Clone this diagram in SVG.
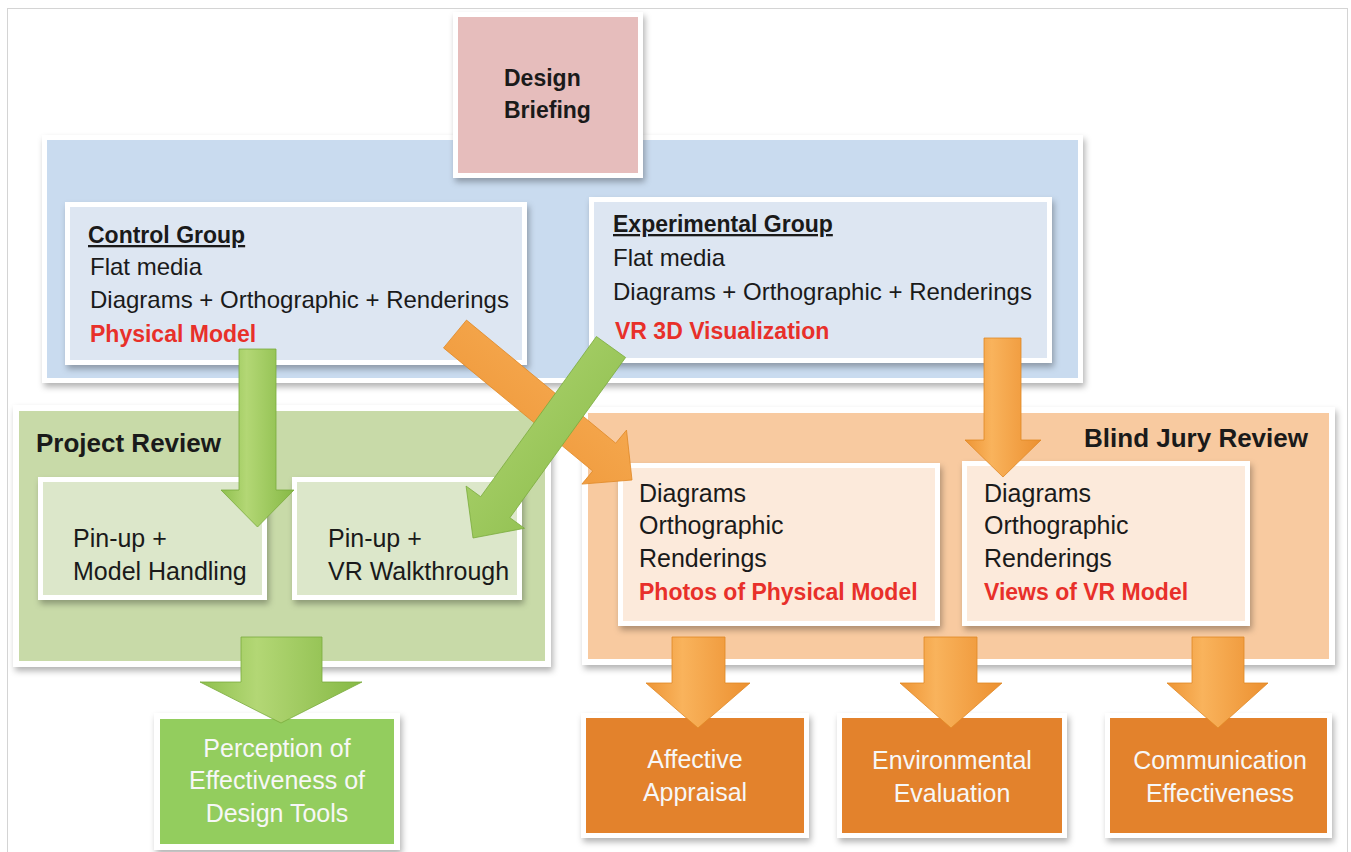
<svg xmlns="http://www.w3.org/2000/svg" width="1351" height="852" viewBox="0 0 1351 852">
<defs>
<filter id="sh" x="-10%" y="-10%" width="130%" height="130%">
<feDropShadow dx="2" dy="4" stdDeviation="3" flood-color="#000" flood-opacity="0.3"/>
</filter>
<linearGradient id="gG" x1="0" y1="0" x2="1" y2="0">
<stop offset="0" stop-color="#8FC04E"/><stop offset="0.35" stop-color="#B3D775"/><stop offset="1" stop-color="#86B945"/>
</linearGradient>
<linearGradient id="gO" x1="0" y1="0" x2="1" y2="0">
<stop offset="0" stop-color="#EE9535"/><stop offset="0.35" stop-color="#F9B35C"/><stop offset="1" stop-color="#EC9030"/>
</linearGradient>
<linearGradient id="gGd" x1="0" y1="0" x2="1" y2="1">
<stop offset="0" stop-color="#B3D775"/><stop offset="1" stop-color="#86B945"/>
</linearGradient>
<linearGradient id="gOd" x1="1" y1="0" x2="0" y2="1">
<stop offset="0" stop-color="#F9B35C"/><stop offset="1" stop-color="#EC9030"/>
</linearGradient>
</defs>
<style>
.w{fill:#fff;filter:url(#sh)}
.t{font-family:"Liberation Sans",Arial,sans-serif;font-size:24px;fill:#1a1a1a}
.m{font-size:25px}
.b{font-weight:bold}
.u{text-decoration:underline}
.r{fill:#E8302A;font-weight:bold;font-size:23px}
.wt{fill:#F7F7F7;text-anchor:middle;font-size:25px}
.ga{stroke:#7AAB3C;stroke-width:0.8}
.oa{stroke:#E08825;stroke-width:0.8}
</style>
<rect x="7.5" y="8.5" width="1340" height="850" fill="#fff" stroke="#D4D4D4" stroke-width="1"/>

<g id="panel-design-phase">
<rect class="w" x="42" y="135" width="1041" height="248"/>
<rect x="47" y="140" width="1031" height="238" fill="#C9DBEF"/>
</g>
<g id="design-briefing">
<rect class="w" x="453" y="12" width="190" height="166"/>
<rect x="458" y="17" width="180" height="156" fill="#E6BDBC"/>
<text class="t b" x="504" y="86" style="font-size:23px">Design</text>
<text class="t b" x="504" y="118" style="font-size:23px">Briefing</text>
</g>
<g id="control-group">
<rect class="w" x="65" y="202" width="462" height="163"/>
<rect x="70" y="207" width="452" height="153" fill="#DDE6F2"/>
<text class="t b u" x="88" y="243" style="font-size:23px">Control Group</text>
<text class="t" x="90" y="275">Flat media</text>
<text class="t" x="90" y="308">Diagrams + Orthographic + Renderings</text>
<text class="t r" x="90" y="342">Physical Model</text>
</g>
<g id="experimental-group">
<rect class="w" x="589" y="197" width="463" height="166"/>
<rect x="594" y="202" width="453" height="156" fill="#DDE6F2"/>
<text class="t b u" x="613" y="232" style="font-size:23px">Experimental Group</text>
<text class="t" x="613" y="266">Flat media</text>
<text class="t" x="613" y="300">Diagrams + Orthographic + Renderings</text>
<text class="t r" x="615" y="339">VR 3D Visualization</text>
</g>

<g id="project-review">
<rect class="w" x="13" y="405" width="538" height="262"/>
<rect x="19" y="411" width="526" height="250" fill="#C8DAA8"/>
<text class="t b" x="36" y="452" style="font-size:26px">Project Review</text>
</g>
<g id="pinup-model">
<rect class="w" x="38" y="477" width="229" height="123"/>
<rect x="43" y="482" width="219" height="113" fill="#DCE7CA"/>
<text class="t m" x="73" y="547">Pin-up +</text>
<text class="t m" x="73" y="580">Model Handling</text>
</g>
<g id="pinup-vr">
<rect class="w" x="292" y="477" width="230" height="123"/>
<rect x="297" y="482" width="220" height="113" fill="#DCE7CA"/>
<text class="t m" x="328" y="547">Pin-up +</text>
<text class="t m" x="328" y="580">VR Walkthrough</text>
</g>
<g id="perception">
<rect class="w" x="154" y="713" width="246" height="137"/>
<rect x="160" y="719" width="234" height="125" fill="#93CD5E"/>
<text class="t wt" x="277" y="757">Perception of</text>
<text class="t wt" x="277" y="789">Effectiveness of</text>
<text class="t wt" x="277" y="822">Design Tools</text>
</g>

<g id="blind-jury-review">
<rect class="w" x="582" y="407" width="753" height="258"/>
<rect x="588" y="413" width="741" height="246" fill="#F8CAA0"/>
<text class="t b" x="1308" y="447" style="font-size:26px;text-anchor:end">Blind Jury Review</text>
</g>
<g id="photos-box">
<rect class="w" x="618" y="463" width="322" height="163"/>
<rect x="623" y="468" width="312" height="153" fill="#FCEADB"/>
<text class="t m" x="639" y="502">Diagrams</text>
<text class="t m" x="639" y="534">Orthographic</text>
<text class="t m" x="639" y="567">Renderings</text>
<text class="t r" x="639" y="600">Photos of Physical Model</text>
</g>
<g id="views-box">
<rect class="w" x="962" y="461" width="288" height="165"/>
<rect x="967" y="466" width="278" height="155" fill="#FCEADB"/>
<text class="t m" x="984" y="502">Diagrams</text>
<text class="t m" x="984" y="534">Orthographic</text>
<text class="t m" x="984" y="567">Renderings</text>
<text class="t r" x="984" y="600">Views of VR Model</text>
</g>
<g id="affective">
<rect class="w" x="581" y="713" width="228" height="125"/>
<rect x="586" y="718" width="218" height="115" fill="#E3822C"/>
<text class="t wt" x="695" y="768">Affective</text>
<text class="t wt" x="695" y="801">Appraisal</text>
</g>
<g id="environmental">
<rect class="w" x="837" y="713" width="230" height="125"/>
<rect x="842" y="718" width="220" height="115" fill="#E3822C"/>
<text class="t wt" x="952" y="769">Environmental</text>
<text class="t wt" x="952" y="802">Evaluation</text>
</g>
<g id="communication">
<rect class="w" x="1105" y="713" width="227" height="125"/>
<rect x="1110" y="718" width="217" height="115" fill="#E3822C"/>
<text class="t wt" x="1220" y="769">Communication</text>
<text class="t wt" x="1220" y="802">Effectiveness</text>
</g>

<g id="connectors">
<polygon class="ga" fill="url(#gG)" points="239,349 276,349 276,490 294,490 257.5,527 221,490 239,490"/>
<polygon class="oa" fill="url(#gOd)" points="466.5,320.1 615.7,443.2 626.5,430.1 632,480 581.9,484.1 592.7,471 443.5,347.9"/>
<polygon class="ga" fill="url(#gGd)" points="596.4,336.5 625.6,357.5 509.9,517.7 524.5,528.3 473,538 466.1,486.1 480.7,496.7"/>
<polygon class="oa" fill="url(#gO)" points="984,338 1021,338 1021,440 1041,440 1003,477 965,440 984,440"/>
<polygon class="ga" fill="url(#gG)" points="241,637 322,637 322,682 362,682 281,723 200,682 241,682"/>
<polygon class="oa" fill="url(#gO)" points="672,637 725,637 725,683 750,683 698,728 646,683 672,683"/>
<polygon class="oa" fill="url(#gO)" points="924,637 977,637 977,683 1002,683 951,728 900,683 924,683"/>
<polygon class="oa" fill="url(#gO)" points="1192,637 1244,637 1244,683 1268,683 1218,728 1167,683 1192,683"/>
</g>
</svg>
